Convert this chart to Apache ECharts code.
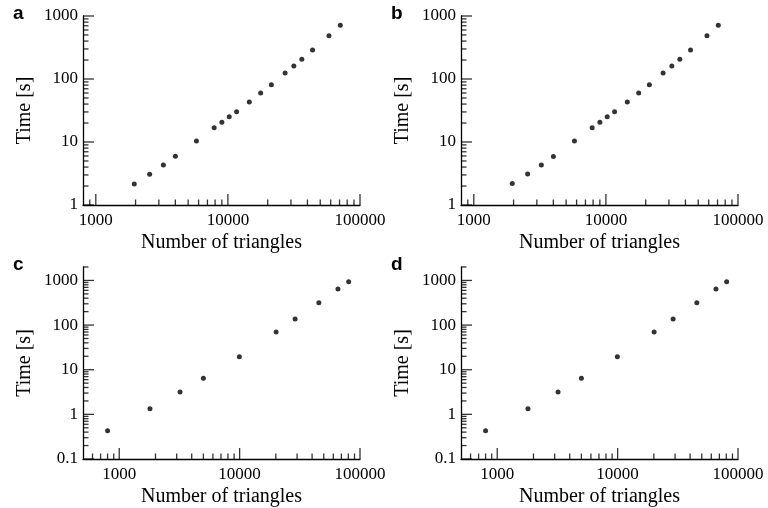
<!DOCTYPE html>
<html><head><meta charset="utf-8">
<script src="https://cdn.jsdelivr.net/npm/echarts@6/dist/echarts.min.js"></script>
<style>html,body{margin:0;padding:0;background:#fff}#c{width:768px;height:508px}</style>
</head><body><div id="c"></div>
<script>
// ---- data ----
const trianglesA = [1955, 2556, 3246, 4004, 5781, 7870, 9003, 10233, 11633, 14522, 17704, 21333, 27101, 31550, 36270, 43737, 58200, 70940];
const timeA = [2.15, 3.07, 4.31, 5.92, 10.4, 16.9, 20.5, 25.2, 30.3, 43.2, 59.9, 81.3, 124.5, 160.8, 205, 288.6, 487, 711];
const trianglesB = [1955, 2556, 3246, 4004, 5781, 7870, 9003, 10233, 11633, 14522, 17704, 21333, 27101, 31550, 36270, 43737, 58200, 70940];
const timeB = [2.2, 3.1, 4.3, 5.9, 10.4, 16.9, 20.5, 25.2, 30.3, 43.2, 59.9, 81.3, 124.5, 160.8, 205, 288.6, 487, 711];
const trianglesC = [800, 1800, 3200, 5000, 9950, 20100, 28900, 45500, 65600, 80500];
const timeC = [0.43, 1.34, 3.16, 6.4, 19.5, 69.7, 136, 316, 640, 933];
const trianglesD = [800, 1800, 3200, 5000, 9950, 20100, 28900, 45500, 65600, 80500];
const timeD = [0.43, 1.34, 3.16, 6.4, 19.5, 69.7, 136, 316, 640, 933];

const panelLetters = ['a', 'b', 'c', 'd'];
const xTitle = 'Number of triangles';
const yTitle = 'Time [s]';

const xRangeAB = [800, 100000];
const yRangeAB = [1, 1000];
const xRangeCD = [500, 100000];
const yRangeCD = [0.1, 2000];

const xMajorTicks = [1000, 10000, 100000];
const yMajorTicksAB = [1, 10, 100, 1000];
const yMajorTicksCD = [0.1, 1, 10, 100, 1000];

const xMinorTicksAB = [900, 2000, 3000, 4000, 5000, 6000, 7000, 8000, 9000, 20000, 30000, 40000, 50000, 60000, 70000, 80000, 90000];
const xMinorTicksCD = [600, 700, 800, 900, 2000, 3000, 4000, 5000, 6000, 7000, 8000, 9000, 20000, 30000, 40000, 50000, 60000, 70000, 80000, 90000];
const yMinorTicksAB = [2, 3, 4, 5, 6, 7, 8, 9, 20, 30, 40, 50, 60, 70, 80, 90, 200, 300, 400, 500, 600, 700, 800, 900];
const yMinorTicksCD = [0.2, 0.3, 0.4, 0.5, 0.6, 0.7, 0.8, 0.9, 2, 3, 4, 5, 6, 7, 8, 9, 20, 30, 40, 50, 60, 70, 80, 90, 200, 300, 400, 500, 600, 700, 800, 900, 2000];

// ---- build ----
const SERIF = 'Liberation Serif';
const grids = [
  {left: 83, top: 16, width: 277, height: 189},
  {left: 461, top: 16, width: 277, height: 189},
  {left: 83, top: 267, width: 277, height: 192},
  {left: 461, top: 267, width: 277, height: 192}
];
const panels = [
  {xs: trianglesA, ys: timeA, xr: xRangeAB, yr: yRangeAB, yt: yMajorTicksAB, xm: xMinorTicksAB, ym: yMinorTicksAB},
  {xs: trianglesB, ys: timeB, xr: xRangeAB, yr: yRangeAB, yt: yMajorTicksAB, xm: xMinorTicksAB, ym: yMinorTicksAB},
  {xs: trianglesC, ys: timeC, xr: xRangeCD, yr: yRangeCD, yt: yMajorTicksCD, xm: xMinorTicksCD, ym: yMinorTicksCD},
  {xs: trianglesD, ys: timeD, xr: xRangeCD, yr: yRangeCD, yt: yMajorTicksCD, xm: xMinorTicksCD, ym: yMinorTicksCD}
];
const fmt = v => '{s|' + String(+(+v).toPrecision(6)) + '}';
const labelRich = {s: {fontFamily: SERIF, fontSize: 17, color: '#000'}};
const lineStyle = {color: '#000', width: 1.3};
const TW = 1.3, MAJ = 11, MIN = 5.5;
function tickSeries(i, data, horizontal, len) {
  return {
    type: 'scatter', xAxisIndex: i, yAxisIndex: i, clip: false,
    data, symbol: 'rect',
    symbolSize: horizontal ? [len, TW] : [TW, len],
    symbolOffset: horizontal ? [len / 2, 0] : [0, -len / 2],
    itemStyle: {color: '#000'}, silent: true, z: 4
  };
}
const xAxes = [], yAxes = [], series = [];
panels.forEach((p, i) => {
  xAxes.push({
    type: 'log', logBase: 10, gridIndex: i, min: p.xr[0], max: p.xr[1],
    axisLine: {show: true, lineStyle},
    axisTick: {show: false},
    axisLabel: {customValues: xMajorTicks, formatter: fmt, rich: labelRich, color: '#000', fontFamily: SERIF, fontSize: 17, margin: 7},
    minorTick: {show: false}, splitLine: {show: false},
    name: xTitle, nameLocation: 'middle', nameGap: 28,
    nameTextStyle: {color: '#000', fontFamily: SERIF, fontSize: 20}
  });
  yAxes.push({
    type: 'log', logBase: 10, gridIndex: i, min: p.yr[0], max: p.yr[1],
    axisLine: {show: true, lineStyle},
    axisTick: {show: false},
    axisLabel: {customValues: p.yt, formatter: fmt, rich: labelRich, color: '#000', fontFamily: SERIF, fontSize: 17, margin: 5},
    minorTick: {show: false}, splitLine: {show: false},
    name: yTitle, nameLocation: 'middle', nameGap: 48,
    nameTextStyle: {color: '#000', fontFamily: SERIF, fontSize: 20}
  });
  series.push({
    type: 'scatter', xAxisIndex: i, yAxisIndex: i,
    data: p.xs.map((x, k) => [x, p.ys[k]]),
    symbol: 'circle', symbolSize: 5, itemStyle: {color: '#000'}, silent: true, z: 5
  });
  series.push(tickSeries(i, xMajorTicks.map(x => [x, p.yr[0]]), false, MAJ));
  series.push(tickSeries(i, p.xm.map(x => [x, p.yr[0]]), false, MIN));
  series.push(tickSeries(i, p.yt.map(y => [p.xr[0], y]), true, MAJ));
  series.push(tickSeries(i, p.ym.map(y => [p.xr[0], y]), true, MIN));
});
const letterPos = [[13, 4], [391, 4], [13, 255], [391, 255]];
const graphic = panelLetters.map((t, i) => ({
  type: 'text', left: letterPos[i][0], top: letterPos[i][1], silent: true,
  style: {text: t, fill: '#000', font: "bold 19px 'Liberation Sans', Arial, sans-serif"}
}));
const chart = echarts.init(document.getElementById('c'), null, {renderer: 'canvas'});
chart.setOption({
  animation: false,
  backgroundColor: '#fff',
  textStyle: {fontFamily: SERIF, color: '#000'},
  grid: grids.map(g => Object.assign({containLabel: false, outerBoundsMode: 'none'}, g)),
  xAxis: xAxes, yAxis: yAxes, series, graphic
});
</script></body></html>
